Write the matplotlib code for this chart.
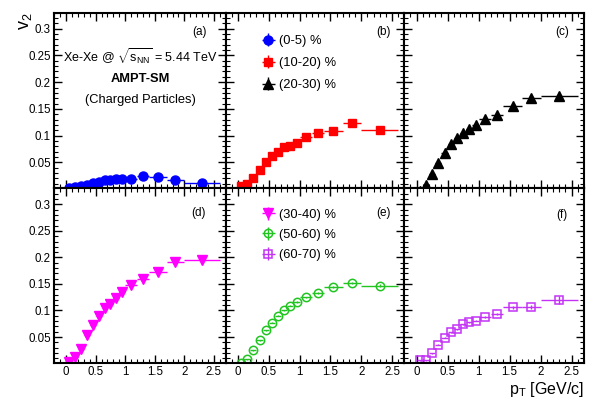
import matplotlib
matplotlib.use("Agg")
import matplotlib.pyplot as plt
from matplotlib.ticker import MultipleLocator

plt.rcParams['font.family'] = ['Liberation Sans', 'DejaVu Sans']
plt.rcParams['mathtext.fontset'] = 'custom'
plt.rcParams['mathtext.rm'] = 'Liberation Sans'
plt.rcParams['mathtext.it'] = 'Liberation Sans:italic'
plt.rcParams['mathtext.bf'] = 'Liberation Sans:bold'

# pT bin centres and half widths (GeV/c)
pt = [0.05, 0.15, 0.25, 0.35, 0.45, 0.55, 0.65, 0.75, 0.85, 0.95, 1.1, 1.3, 1.55, 1.85, 2.3]
pt_err = [0.05, 0.05, 0.05, 0.05, 0.05, 0.05, 0.05, 0.05, 0.05, 0.05, 0.1, 0.1, 0.15, 0.15, 0.3]

# v2 per centrality class
v2_0_5 = [0.002, 0.004, 0.006, 0.008, 0.011, 0.013, 0.016, 0.016, 0.019, 0.018, 0.018, 0.024, 0.023, 0.017, 0.012]
v2_10_20 = [0.006, 0.010, 0.020, 0.036, 0.051, 0.062, 0.070, 0.078, 0.080, 0.087, 0.097, 0.105, 0.109, 0.124, 0.111]
v2_20_30 = [-0.003, 0.008, 0.028, 0.049, 0.067, 0.084, 0.095, 0.104, 0.113, 0.120, 0.131, 0.139, 0.155, 0.170, 0.175]
v2_30_40 = [0.002, 0.013, 0.028, 0.053, 0.073, 0.089, 0.104, 0.113, 0.123, 0.134, 0.148, 0.160, 0.173, 0.191, 0.195]
v2_50_60 = [0.001, 0.008, 0.025, 0.044, 0.063, 0.077, 0.090, 0.100, 0.109, 0.116, 0.125, 0.133, 0.145, 0.152, 0.147]
v2_60_70 = [0.006, 0.006, 0.019, 0.035, 0.049, 0.059, 0.065, 0.074, 0.078, 0.081, 0.087, 0.093, 0.106, 0.107, 0.120]

err_small = [0.001, 0.001, 0.001, 0.001, 0.001, 0.001, 0.001, 0.001, 0.001, 0.001, 0.001, 0.001, 0.002, 0.002, 0.003]
err_60_70 = [0.001, 0.001, 0.001, 0.001, 0.001, 0.001, 0.001, 0.001, 0.001, 0.001, 0.002, 0.002, 0.003, 0.004, 0.008]

labels = ['(0-5) %', '(10-20) %', '(20-30) %', '(30-40) %', '(50-60) %', '(60-70) %']
panel_tags = ['(a)', '(b)', '(c)', '(d)', '(e)', '(f)']

series = [
    (v2_0_5, err_small, 'blue', 'o', True, 6.5),
    (v2_10_20, err_small, 'red', 's', True, 6.3),
    (v2_20_30, err_small, 'black', '^', True, 6.5),
    (v2_30_40, err_small, 'magenta', 'v', True, 6.5),
    (v2_50_60, err_small, '#22c422', 'o', False, 6.0),
    (v2_60_70, err_60_70, '#c433f5', 's', False, 6.0),
]

W, H = 591, 399
fig = plt.figure(figsize=(W / 100, H / 100), dpi=100)

col_px = [(54.3, 225.7), (225.7, 404.3), (404.3, 584.0)]
row_px = [(12.7, 188.5), (188.5, 363.0)]
tag_pos = [(0.847, 0.89), (0.886, 0.89), (0.881, 0.89),
           (0.844, 0.858), (0.886, 0.86), (0.878, 0.848)]

axes = []
handles = []
for i, (vals, err, color, mk, filled, ms) in enumerate(series):
    r, c = divmod(i, 3)
    x0, x1 = col_px[c]
    y0, y1 = row_px[r]
    ax = fig.add_axes([x0 / W, 1 - y1 / H, (x1 - x0) / W, (y1 - y0) / H])
    h = ax.errorbar(pt, vals, xerr=pt_err, yerr=err, fmt=mk, color=color, ms=ms,
                    mfc=color if filled else 'none', mec=color,
                    mew=1.0 if filled else 1.1, elinewidth=1.0, capsize=0, label=labels[i])
    handles.append(h)

    ax.set_xlim(-0.2, 2.7)
    ax.set_ylim(0.001, 0.33)
    ax.xaxis.set_major_locator(MultipleLocator(0.5))
    ax.xaxis.set_minor_locator(MultipleLocator(0.1))
    ax.set_yticks([0.05, 0.1, 0.15, 0.2, 0.25, 0.3])
    ax.set_yticklabels(['0.05', '0.1', '0.15', '0.2', '0.25', '0.3'])
    ax.yaxis.set_minor_locator(MultipleLocator(0.01))
    ax.xaxis.set_major_formatter(plt.FuncFormatter(lambda v, p: '%g' % v))
    ax.tick_params(which='both', direction='in', top=True, right=True, labelsize=8.3, pad=2.5)
    ax.tick_params(which='major', length=5.5, width=1.0)
    ax.tick_params(which='minor', length=2.8, width=0.8)
    if r == 0:
        ax.tick_params(labelbottom=False)
    if c > 0:
        ax.tick_params(labelleft=False)
    for s in ax.spines.values():
        s.set_linewidth(1.5)
    ax.text(tag_pos[i][0], tag_pos[i][1], panel_tags[i], transform=ax.transAxes,
            ha='center', va='center', fontsize=8.5)
    axes.append(ax)

ax_a = axes[0]
ax_a.text(0.5, 0.748, r'Xe-Xe @ $\sqrt{\mathrm{s}_{\mathrm{NN}}}$ = 5.44 TeV', transform=ax_a.transAxes,
          ha='center', va='center', fontsize=9.0)
ax_a.text(0.5, 0.623, 'AMPT-SM', transform=ax_a.transAxes, ha='center', va='center',
          fontsize=9.3, fontweight='bold')
ax_a.text(0.5, 0.503, '(Charged Particles)', transform=ax_a.transAxes, ha='center', va='center',
          fontsize=9.3)

leg_kw = dict(frameon=False, fontsize=9.3, handlelength=1.2, handletextpad=0.2,
              borderpad=0, borderaxespad=0, loc='upper left')
axes[1].legend(handles[:3], labels[:3], bbox_to_anchor=(0.195, 0.873), labelspacing=0.78, **leg_kw)
axes[4].legend(handles[3:], labels[3:], bbox_to_anchor=(0.195, 0.883), labelspacing=0.62, **leg_kw)

fig.text(0.043, 0.97, r'$\mathrm{v}_{2}$', rotation=90, ha='center', va='top', fontsize=13)
fig.text(0.988, 0.001, r'$\mathrm{p}_{\mathrm{T}}$ [GeV/c]', ha='right', va='bottom', fontsize=11.5)

fig.savefig('out.png', dpi=100)
